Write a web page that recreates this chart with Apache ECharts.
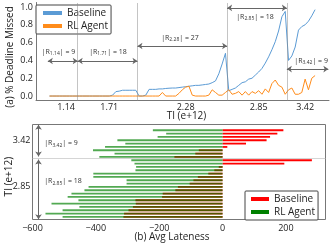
<!DOCTYPE html>
<html><head><meta charset="utf-8">
<script src="https://cdn.jsdelivr.net/npm/echarts@6/dist/echarts.min.js"></script>
<style>html,body{margin:0;padding:0;background:#fff}#c{width:332px;height:245px}</style>
</head><body><div id="c"></div>
<script>
// ---------------- data ----------------
const regionLabels = ['1.14', '1.71', '2.28', '2.85', '3.42'];
const regionSizes = [9, 18, 27, 18, 9];
const topTickPositions = [5, 18, 41, 63, 77];
const topTickLabels = ['1.14', '1.71', '2.28', '2.85', '3.42'];
const topYTicks = [0, 0.2, 0.4, 0.6, 0.8, 1.0];

const baselineMissed = [
  0,0,0,0,0,0,0,0,0,
  0,0,0,0,0,0,0,0,0,0,0.01,0.05,0.055,0.065,0.065,0.065,0.065,0.065,
  0,0,0.01,0.075,0.075,0.075,0.08,0.08,0.085,0.088,0.09,0.09,0.095,0.10,0.105,0.11,0.115,0.12,0.12,0.125,0.13,0.135,0.15,0.17,0.25,0.36,0.48,
  0.06,0.075,0.09,0.12,0.15,0.16,0.19,0.20,0.235,0.27,0.31,0.37,0.44,0.52,0.61,0.73,0.89,0.95,
  0.40,0.45,0.55,0.74,0.78,0.80,0.84,0.90,0.97
];
const agentMissed = [
  0,0,0,0,0,0,0,0,0,
  0,0,0,0,0,0,0,0,0,0,0,0,0,0,0,0,0,0,
  0,0,0,0,0,0,0,0.04,0,0,0,0,0.03,0.07,0.10,0.11,0.01,0,0,0,0,0.01,0.07,0.04,0.01,0.01,0.04,
  0.07,0.02,0.03,0.05,0.01,0.05,0.01,0.05,0.03,0.06,0.02,0.08,0.04,0.14,0.18,0.12,0.10,0.02,
  0.07,0.09,0.02,0.02,0.04,0.19,0.07,0.20,0.23
];

const lateRegionLabels = ['3.42', '2.85'];
const lateRegionSizes = [9, 18];
const lateTickRows = [3, 17];
const lateTickLabels = ['3.42', '2.85'];
const latenessTicks = [-600, -400, -200, 0, 200];
const baselineLateness = [192, 173, 150, 139, 74, 15, -75, -86, -152,
  282, 195, -12, -26, -45, -78, -92, -104, -141, -149, -189, -191, -275, -274, -283, -297, -311, -313];
const agentLateness = [-220, -178, -205, -332, -307, -371, -409, -341, -389,
  -288, -278, -273, -275, -408, -408, -303, -303, -423, -436, -477, -489, -455, -540, -452, -505, -559, -505];
const lateRows = baselineLateness.map((_, k) => String(k));

// ---------------- layout / style ----------------
const FONT = "'Open Sans', sans-serif";
const TXT = '#222';
const AX = '#777';
const topXMin = -4.07, topXMax = 84.19;
const topArrowY = [0.393, 0.393, 0.562, 0.989, 0.303];
const topLabelXY = [[2.7, 0.494], [17.6, 0.494], [39.3, 0.652], [61.9, 0.888], [78.8, 0.393]];
const botArrowX = -581;
const botYMin = -1.59, botYMax = 26.93;
const botLabelXY = [[-563, 4.0], [-563, 15.5]];

const bounds = [-0.5];
regionSizes.forEach(n => bounds.push(bounds[bounds.length - 1] + n));
const lateBounds = [-0.5];
lateRegionSizes.forEach(n => lateBounds.push(lateBounds[lateBounds.length - 1] + n));

function rLabel(lab, n) { return '{t||R}{s|' + lab + '}{t|| = ' + n + '}'; }
const rich = {
  t: { fontSize: 7, lineHeight: 9, color: '#333', fontFamily: FONT },
  s: { fontSize: 5, verticalAlign: 'bottom', color: '#333', fontFamily: FONT }
};

const topArrows = regionSizes.map((n, r) => {
  const x1 = bounds[r];
  const x2 = r === regionSizes.length - 1 ? topXMax - 0.2 : bounds[r + 1];
  return [{ coord: [x1, topArrowY[r]] }, { coord: [x2, topArrowY[r]] }];
});
const topLabels = regionSizes.map((n, r) => ({
  coord: topLabelXY[r],
  label: { formatter: rLabel(regionLabels[r], n) }
}));
const topSeparators = bounds.slice(1, -1).map(b => ({ xAxis: b }));

const botArrows = [
  [{ coord: [botArrowX, botYMin + 0.05] }, { coord: [botArrowX, lateBounds[1] - 0.5] }],
  [{ coord: [botArrowX, lateBounds[1] + 0.45] }, { coord: [botArrowX, botYMax - 0.05] }]
];
const botLabels = lateRegionSizes.map((n, r) => ({
  coord: botLabelXY[r],
  label: { formatter: rLabel(lateRegionLabels[r], n) }
}));

const chart = echarts.init(document.getElementById('c'), null, { renderer: 'canvas' });
chart.setOption({
  animation: false,
  backgroundColor: '#fff',
  textStyle: { fontFamily: FONT },
  grid: [
    { left: 36, top: 2.5, width: 293, height: 98, containLabel: false, outerBoundsMode: 'none' },
    { left: 32.5, top: 128.6, width: 293, height: 90, containLabel: false, outerBoundsMode: 'none' },
    { left: 32.5, top: 124.5, width: 293, height: 95, show: true, borderColor: AX, borderWidth: 1,
      backgroundColor: 'transparent', containLabel: false, outerBoundsMode: 'none' }
  ],
  legend: [
    {
      data: ['Baseline', 'RL Agent'], orient: 'vertical', left: 36, top: 5,
      icon: 'rect', itemWidth: 19, itemHeight: 4, itemGap: 1,
      padding: [2, 3, 2, 7], borderColor: '#444', borderWidth: 1, borderRadius: 1,
      backgroundColor: '#fff',
      textStyle: { fontSize: 10, lineHeight: 12, color: TXT, fontFamily: FONT }
    },
    {
      data: ['Baseline ', 'RL Agent '], orient: 'vertical', left: 245, top: 191,
      formatter: n => n.trim(),
      icon: 'rect', itemWidth: 18, itemHeight: 4, itemGap: 1, itemStyle: { opacity: 1 },
      padding: [2, 3, 2, 6], borderColor: '#444', borderWidth: 1, borderRadius: 1,
      backgroundColor: '#fff',
      textStyle: { fontSize: 10, lineHeight: 12, color: TXT, fontFamily: FONT }
    }
  ],
  xAxis: [
    {
      type: 'value', gridIndex: 0, min: topXMin, max: topXMax,
      axisLine: { show: true, onZero: false, lineStyle: { color: AX, width: 1 } },
      axisTick: { show: false }, splitLine: { show: false },
      axisLabel: {
        customValues: topTickPositions,
        formatter: v => topTickLabels[topTickPositions.indexOf(v)],
        fontSize: 9, color: TXT, margin: 2, fontFamily: FONT
      },
      name: 'TI (e+12)', nameLocation: 'middle', nameGap: 11, nameMoveOverlap: false,
      nameTextStyle: { fontSize: 10, color: TXT, fontFamily: FONT, padding: [0, 0, 0, 8] }
    },
    {
      type: 'value', gridIndex: 1, min: -600, max: 325,
      axisLine: { show: false }, axisTick: { show: false }, splitLine: { show: false },
      axisLabel: {
        customValues: latenessTicks,
        formatter: v => (v < 0 ? '\u2212' + Math.abs(v) : String(v)),
        fontSize: 9, color: TXT, margin: 5, fontFamily: FONT
      },
      name: '(b) Avg Lateness', nameLocation: 'middle', nameGap: 14, nameMoveOverlap: false,
      nameTextStyle: { fontSize: 10, color: TXT, fontFamily: FONT, padding: [0, 14, 0, 0] }
    },
    { type: 'value', gridIndex: 2, min: -600, max: 325, show: false }
  ],
  yAxis: [
    {
      type: 'value', gridIndex: 0, min: -0.05, max: 1.05,
      axisLine: { show: true, onZero: false, lineStyle: { color: AX, width: 1 } },
      axisTick: { show: false }, splitLine: { show: false },
      axisLabel: {
        customValues: topYTicks, formatter: v => v.toFixed(1),
        fontSize: 9, color: TXT, margin: 3, fontFamily: FONT
      },
      name: '(a) % Deadline Missed', nameLocation: 'middle', nameGap: 21, nameMoveOverlap: false,
      nameTextStyle: { fontSize: 10, color: TXT, fontFamily: FONT, padding: [0, 11, 0, 0] }
    },
    {
      type: 'category', gridIndex: 1, data: lateRows, inverse: true,
      axisLine: { show: false }, axisTick: { show: false }, splitLine: { show: false },
      axisLabel: {
        interval: (idx) => lateTickRows.indexOf(idx) >= 0,
        formatter: (val, idx) => lateTickLabels[lateTickRows.indexOf(idx)] || '',
        fontSize: 9, color: TXT, margin: 2, fontFamily: FONT
      },
      name: 'TI (e+12)', nameLocation: 'middle', nameGap: 18, nameMoveOverlap: false,
      nameTextStyle: { fontSize: 10, color: TXT, fontFamily: FONT, padding: [0, 6, 0, 0] }
    },
    { type: 'value', gridIndex: 2, min: botYMin, max: botYMax, inverse: true, show: false }
  ],
  series: [
    {
      name: 'Baseline', type: 'line', xAxisIndex: 0, yAxisIndex: 0,
      data: baselineMissed.map((v, i) => [i, v]), symbol: 'none',
      lineStyle: { color: '#5b9bd5', width: 1 }, itemStyle: { color: '#5b9bd5' }
    },
    {
      name: 'RL Agent', type: 'line', xAxisIndex: 0, yAxisIndex: 0,
      data: agentMissed.map((v, i) => [i, v]), symbol: 'none',
      lineStyle: { color: '#ff8c1a', width: 1 }, itemStyle: { color: '#ff8c1a' }
    },
    {
      name: 'sep', type: 'line', xAxisIndex: 0, yAxisIndex: 0, data: [],
      markLine: {
        silent: true, symbol: 'none', label: { show: false },
        lineStyle: { type: 'dotted', color: '#888', width: 1 },
        data: topSeparators
      }
    },
    {
      name: 'ann', type: 'line', xAxisIndex: 0, yAxisIndex: 0, data: [],
      markLine: {
        silent: true, symbol: ['arrow', 'arrow'], symbolSize: 5, label: { show: false },
        lineStyle: { type: 'solid', color: '#666', width: 1 },
        data: topArrows
      },
      markPoint: {
        silent: true, symbol: 'circle', symbolSize: 0,
        label: { show: true, position: 'inside', rich: rich },
        data: topLabels
      }
    },
    {
      name: 'Baseline ', type: 'bar', xAxisIndex: 1, yAxisIndex: 1,
      data: baselineLateness, barWidth: 1.8,
      itemStyle: { color: '#ff0000' }
    },
    {
      name: 'RL Agent ', type: 'bar', xAxisIndex: 1, yAxisIndex: 1,
      data: agentLateness, barWidth: 1.8, barGap: '-100%',
      itemStyle: { color: '#008000', opacity: 0.68 }
    },
    {
      name: 'sep2', type: 'line', xAxisIndex: 2, yAxisIndex: 2, data: [],
      markLine: {
        silent: true, symbol: 'none', label: { show: false },
        lineStyle: { type: 'dotted', color: '#aaa', width: 1 },
        data: [{ yAxis: lateBounds[1] }]
      }
    },
    {
      name: 'ann2', type: 'line', xAxisIndex: 2, yAxisIndex: 2, data: [],
      markLine: {
        silent: true, symbol: ['arrow', 'arrow'], symbolSize: 5, label: { show: false },
        lineStyle: { type: 'solid', color: '#666', width: 1 },
        data: botArrows
      },
      markPoint: {
        silent: true, symbol: 'circle', symbolSize: 0,
        label: { show: true, position: 'right', distance: 0, rich: rich },
        data: botLabels
      }
    }
  ]
});
</script>
</body></html>
